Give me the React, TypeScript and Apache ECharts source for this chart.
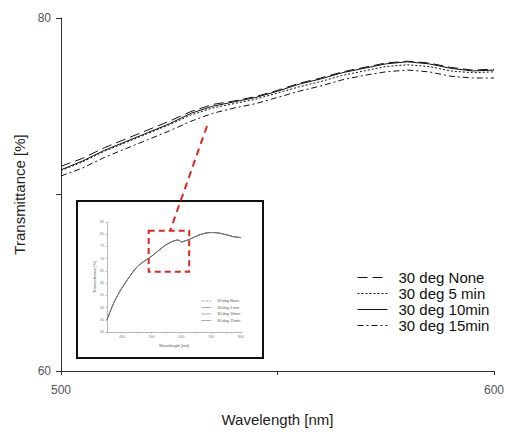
import React, { useEffect, useRef } from "react";
import * as echarts from "echarts";

const wavelengths = [500, 505, 510, 515, 520, 525, 530, 535, 540, 545, 550, 555, 560, 565, 570, 575, 580, 585, 590, 595, 600];
const degNone = [71.6, 72.05, 72.65, 73.15, 73.65, 74.15, 74.7, 75.1, 75.3, 75.55, 75.9, 76.3, 76.6, 76.95, 77.2, 77.45, 77.55, 77.45, 77.2, 77.05, 77.1];
const deg5min = [71.35, 71.85, 72.45, 72.95, 73.45, 73.95, 74.5, 74.9, 75.15, 75.4, 75.75, 76.1, 76.4, 76.75, 77.0, 77.25, 77.35, 77.25, 77.0, 76.9, 76.95];
const deg10min = [71.4, 71.9, 72.5, 73.0, 73.5, 74.0, 74.6, 75.0, 75.25, 75.5, 75.85, 76.25, 76.55, 76.9, 77.15, 77.4, 77.52, 77.4, 77.15, 77.0, 77.05];
const deg15min = [71.05, 71.5, 72.1, 72.6, 73.1, 73.6, 74.15, 74.6, 74.9, 75.15, 75.5, 75.85, 76.15, 76.5, 76.75, 76.95, 77.05, 76.95, 76.7, 76.6, 76.6];

const seriesNames = ["30 deg None", "30 deg 5 min", "30 deg 10min", "30 deg 15min"];
const insetNames = ["30 deg None", "30 deg 5 min", "30 deg 10min", "30 deg 15min"];

const insetWavelengths = [350, 375, 400, 425, 450, 475, 500, 525, 550, 575, 590, 600, 610, 625, 650, 675, 700, 725, 750, 775, 800];
const insetValues = [45.0, 52.5, 58.0, 62.5, 66.5, 69.0, 71.0, 73.5, 75.8, 77.3, 77.6, 76.8, 77.2, 77.8, 79.2, 80.3, 80.7, 80.5, 79.8, 79.0, 78.6];

const zoomBox = { x0: 490, x1: 626, y0: 64.6, y1: 81.4 };

const FONT = "'Liberation Sans', Arial, sans-serif";
const NARROW = "'Liberation Sans Narrow', 'Liberation Sans', Arial, sans-serif";

const dashTypes: any[] = [[10, 5], [2, 2], "solid", [6, 3, 2, 3]];

export default function App() {
  const ref = useRef<HTMLDivElement>(null);
  useEffect(() => {
    if (!ref.current) return;
    const chart = echarts.init(ref.current, undefined, { renderer: "svg" });
    const mainData = [degNone, deg5min, deg10min, deg15min];
    const series: any[] = [];
    mainData.forEach((arr, i) => {
      series.push({
        name: seriesNames[i],
        type: "line",
        xAxisIndex: 0,
        yAxisIndex: 0,
        symbol: "none",
        data: wavelengths.map((w, j) => [w, arr[j]]),
        lineStyle: { color: "#111", width: 1, type: dashTypes[i] },
        itemStyle: { color: "#111" },
        z: 3,
      });
    });
    insetNames.forEach((n, i) => {
      const s: any = {
        name: "inset:" + n,
        type: "line",
        xAxisIndex: 1,
        yAxisIndex: 1,
        symbol: "none",
        smooth: 0.3,
        data: insetWavelengths.map((w, j) => [w, insetValues[j]]),
        lineStyle: { color: "#777", width: 0.8, type: i === 0 ? [3, 1] : "solid" },
        itemStyle: { color: "#777" },
      };
      if (i === 0) {
        s.markArea = {
          silent: true,
          itemStyle: { color: "rgba(0,0,0,0)", borderColor: "#e02525", borderWidth: 2, borderType: [6, 4] },
          data: [[{ coord: [zoomBox.x0, zoomBox.y1] }, { coord: [zoomBox.x1, zoomBox.y0] }]],
        };
      }
      series.push(s);
    });

    chart.setOption({
      animation: false,
      backgroundColor: "#fff",
      grid: [
        { left: 61, right: 14, top: 18, bottom: 60 },
        { left: 107, width: 134, top: 222, height: 110 },
      ],
      xAxis: [
        {
          gridIndex: 0,
          type: "value",
          min: 500,
          max: 600,
          interval: 50,
          name: "Wavelength [nm]",
          nameLocation: "middle",
          nameGap: 41,
          nameTextStyle: { fontFamily: FONT, fontSize: 15, color: "#222" },
          axisLine: { lineStyle: { color: "#333", width: 1 } },
          axisTick: { length: 4, lineStyle: { color: "#333" } },
          axisLabel: {
            margin: 13,
            fontFamily: NARROW,
            fontSize: 12,
            color: "#555",
            formatter: (v: number) => (v === 550 ? "" : String(v)),
          },
          splitLine: { show: false },
        },
        {
          gridIndex: 1,
          type: "value",
          min: 350,
          max: 800,
          interval: 50,
          name: "Wavelength [nm]",
          nameLocation: "middle",
          nameGap: 11,
          nameTextStyle: { fontFamily: FONT, fontSize: 4, color: "#555" },
          axisLine: { lineStyle: { color: "#888", width: 0.6 } },
          axisTick: { length: 1.5, lineStyle: { color: "#888", width: 0.5 } },
          axisLabel: {
            margin: 3,
            fontFamily: FONT,
            fontSize: 3.5,
            color: "#777",
            formatter: (v: number) => (v % 100 === 0 ? String(v) : ""),
          },
          splitLine: { show: false },
        },
      ],
      yAxis: [
        {
          gridIndex: 0,
          type: "value",
          min: 60,
          max: 80,
          interval: 10,
          name: "Transmittance [%]",
          nameLocation: "middle",
          nameGap: 32,
          nameTextStyle: { fontFamily: FONT, fontSize: 15, color: "#222" },
          axisLine: { show: true, lineStyle: { color: "#333", width: 1 } },
          axisTick: { show: true, length: 5, lineStyle: { color: "#333" } },
          axisLabel: {
            margin: 10,
            fontFamily: NARROW,
            fontSize: 12,
            color: "#555",
            formatter: (v: number) => (v === 70 ? "" : String(v)),
          },
          splitLine: { show: false },
        },
        {
          gridIndex: 1,
          type: "value",
          min: 40,
          max: 85,
          interval: 5,
          name: "Transmittance [%]",
          nameLocation: "middle",
          nameGap: 10,
          nameTextStyle: { fontFamily: FONT, fontSize: 4, color: "#555" },
          axisLine: { show: true, lineStyle: { color: "#888", width: 0.6 } },
          axisTick: { show: true, length: 1.5, lineStyle: { color: "#888", width: 0.5 } },
          axisLabel: { margin: 3, fontFamily: FONT, fontSize: 3.5, color: "#777" },
          splitLine: { show: false },
        },
      ],
      legend: [
        {
          data: seriesNames,
          orient: "vertical",
          left: 352,
          top: 265,
          itemWidth: 30,
          itemHeight: 14,
          itemGap: 1,
          itemStyle: { opacity: 0 },
          lineStyle: { width: 1 },
          textStyle: { fontFamily: FONT, fontSize: 15, color: "#111", padding: [0, 0, 0, 6] },
          selectedMode: false,
        },
        {
          data: insetNames.map((n) => "inset:" + n),
          orient: "vertical",
          left: 196,
          top: 294,
          itemWidth: 10,
          itemHeight: 4,
          itemGap: 2.5,
          itemStyle: { opacity: 0 },
          lineStyle: { width: 0.6 },
          formatter: (name: string) => name.replace("inset:", ""),
          textStyle: { fontFamily: FONT, fontSize: 3.8, color: "#555", padding: [0, 0, 0, 1] },
          selectedMode: false,
        },
      ],
      graphic: [
        {
          type: "rect",
          shape: { x: 77, y: 201, width: 186, height: 157 },
          style: { fill: "rgba(255,255,255,0)", stroke: "#111", lineWidth: 2 },
          silent: true,
          z: 1,
        },
        {
          type: "line",
          shape: { x1: 207, y1: 126, x2: 170, y2: 231 },
          style: { stroke: "#e02525", lineWidth: 2, lineDash: [7, 5] },
          silent: true,
          z: 5,
        },
      ],
      series,
    });
    return () => chart.dispose();
  }, []);
  return <div ref={ref} style={{ position: "fixed", left: 0, top: 0, width: 508, height: 432 }} />;
}
